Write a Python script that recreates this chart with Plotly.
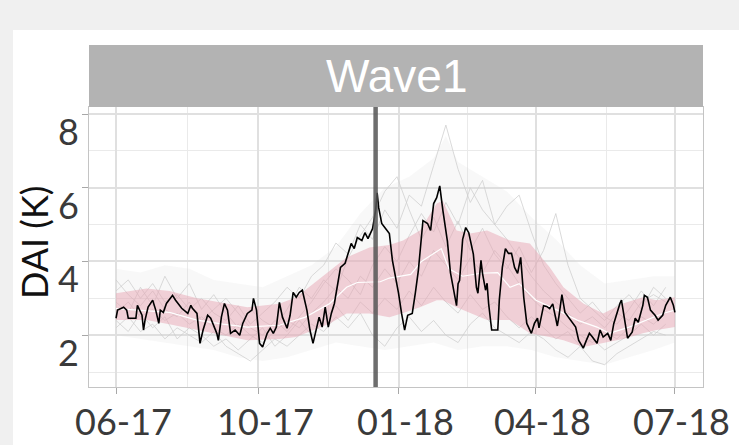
import plotly.graph_objects as go
import pandas as pd

# ---------------- data ----------------
BASE_DATE = "2017-06-30"
tick_dates = ["2017-06-30", "2017-10-01", "2018-01-01", "2018-04-01", "2018-07-01"]
tick_labels = ["06-17", "10-17", "01-18", "04-18", "07-18"]
minor_dates = ["2017-08-16", "2017-11-16", "2018-02-15", "2018-05-17"]
y_ticks = [2, 4, 6, 8]
y_minor = [1, 3, 5, 7]
event_day = 170
panel_title = "Wave1"
y_title = "DAI (K)"

# observed (black) series: day offset, value
black_day = [0, 1, 5, 7, 8, 13, 14, 17, 18, 19, 21, 24, 26, 28, 29, 31, 33, 37, 39, 43,
             47, 49, 50, 53, 54, 55, 57, 60, 62, 64, 66, 67, 69, 71, 73, 75, 78, 81, 83, 86,
             89, 90, 92, 94, 96, 99, 101, 103, 105, 107, 109, 112, 114, 116, 118, 120, 122, 125, 127, 129,
             131, 133, 135, 137, 139, 141, 143, 147, 150, 152, 154, 156, 158, 161, 163, 165, 168, 170, 171, 172,
             174, 176, 179, 181, 183, 185, 187, 189, 191, 194, 196, 198, 201, 204, 206, 208, 210, 212, 214, 217,
             219, 221, 223, 224, 225, 227, 229, 231, 234, 236, 237, 239, 240, 242, 243, 244, 246, 250, 251, 253,
             255, 257, 259, 261, 263, 265, 267, 269, 272, 274, 276, 277, 280, 282, 284, 286, 289, 290, 292, 294,
             296, 299, 301, 303, 306, 308, 310, 312, 315, 317, 319, 322, 324, 326, 328, 330, 331, 333, 335, 338,
             340, 342, 345, 346, 348, 350, 353, 355, 358, 360, 362, 363, 365, 366]
black_val = [2.46, 2.68, 2.76, 2.68, 2.46, 2.46, 2.81, 2.54, 2.14, 2.41, 2.76, 2.95, 2.68, 2.32, 2.68, 2.62, 2.86, 3.08, 2.95, 2.73,
             2.59, 2.81, 2.73, 2.59, 2.19, 1.78, 2.14, 2.54, 2.46, 2.27, 2.05, 1.86, 2.49, 2.86, 2.68, 2.05, 2.14, 2.00, 2.32, 2.59,
             2.68, 3.00, 2.68, 1.78, 1.68, 2.05, 2.19, 2.05, 2.22, 2.89, 2.49, 2.19, 2.54, 3.16, 3.03, 3.16, 3.22, 2.68, 2.14, 1.78,
             2.14, 2.49, 2.22, 2.76, 2.22, 2.59, 2.86, 3.84, 3.95, 4.22, 4.49, 4.35, 4.65, 4.57, 4.78, 4.62, 4.89, 5.38, 5.86, 5.46,
             5.03, 4.92, 4.76, 4.03, 3.62, 3.14, 2.59, 2.14, 2.54, 2.59, 3.14, 3.76, 5.11, 5.03, 4.84, 5.57, 5.73, 6.05, 5.40, 4.55,
             3.70, 3.20, 2.80, 3.40, 3.49, 4.60, 4.92, 4.78, 4.20, 3.30, 3.14, 4.03, 3.68, 3.22, 3.41, 2.86, 2.14, 2.14, 2.95, 3.84,
             4.35, 4.22, 4.22, 3.84, 3.68, 4.11, 3.03, 2.32, 2.05, 2.32, 2.46, 2.20, 2.80, 2.78, 2.72, 2.85, 2.25, 2.50, 3.10, 2.62,
             2.51, 2.35, 2.22, 1.86, 1.65, 1.86, 2.05, 1.95, 1.78, 2.14, 1.95, 2.05, 1.86, 2.32, 2.62, 2.86, 2.95, 2.49, 1.92, 2.08,
             2.46, 2.35, 2.81, 3.08, 3.03, 2.68, 2.54, 2.41, 2.54, 2.81, 2.95, 3.03, 2.81, 2.62]

# pink ribbon (inner quantiles) and white median
band_day = [0, 20, 35, 53, 86, 107, 118, 140, 151, 166, 179, 188, 199, 210, 214, 223, 232, 243, 258, 271,
            284, 293, 306, 319, 332, 345, 354, 366]
band_hi = [3.14, 3.27, 3.20, 3.00, 2.76, 2.85, 3.03, 3.76, 4.11, 4.38, 4.45, 4.57, 4.84, 5.57, 5.65, 4.84, 4.76, 4.84, 4.57, 4.49,
           3.84, 3.30, 2.86, 2.59, 2.86, 3.03, 2.95, 3.03]
band_lo = [2.41, 2.41, 2.30, 2.15, 1.86, 1.90, 1.95, 2.32, 2.59, 2.59, 2.49, 2.60, 2.76, 2.95, 2.95, 2.76, 2.60, 2.41, 2.41, 2.05,
           1.95, 1.86, 1.68, 1.78, 1.90, 2.05, 2.14, 2.22]
median_day = [0, 18, 35, 53, 70, 86, 107, 124, 140, 151, 158, 173, 179, 193, 200, 213, 218, 227, 239, 250,
              258, 264, 275, 289, 302, 315, 323, 336, 347, 358, 366]
median_val = [2.72, 2.66, 2.62, 2.41, 2.30, 2.22, 2.27, 2.49, 2.86, 3.30, 3.43, 3.45, 3.55, 3.65, 4.00, 4.35, 3.80, 3.60, 3.68, 3.70,
              3.30, 3.40, 2.95, 2.68, 2.41, 2.22, 2.05, 2.22, 2.41, 2.59, 2.68]

# grey ensemble members (every 8 days)
ens_day = [0, 8, 16, 24, 32, 40, 48, 56, 64, 72, 80, 88, 96, 104, 112, 120, 128, 136, 144, 152,
           160, 168, 176, 184, 192, 200, 208, 216, 224, 232, 240, 248, 256, 264, 272, 280, 288, 296, 304, 312,
           320, 328, 336, 344, 352, 360]
ens_1 = [3.2, 3.5, 3.0, 3.4, 2.9, 3.1, 2.7, 3.0, 2.6, 2.4, 2.8, 2.3, 2.6, 2.9, 3.3, 3.0, 3.6, 3.9, 4.5, 4.2,
         5.0, 4.6, 5.4, 4.9, 5.8, 5.5, 6.6, 7.7, 6.5, 5.6, 6.2, 5.0, 4.6, 4.1, 3.6, 3.2, 2.9, 2.6, 2.3, 2.5,
         2.2, 2.6, 2.4, 2.9, 3.1, 2.9]
ens_2 = [2.2, 2.5, 2.1, 2.3, 1.9, 2.2, 2.0, 1.8, 2.1, 1.7, 1.5, 1.3, 1.6, 1.9, 1.7, 2.0, 2.3, 2.1, 2.5, 2.2,
         2.6, 2.0, 1.7, 2.2, 2.5, 2.1, 2.4, 2.0, 1.8, 2.3, 2.6, 2.2, 2.0, 1.8, 2.1, 1.9, 1.6, 1.4, 1.7, 1.3,
         1.2, 1.5, 1.7, 1.9, 2.1, 2.0]
ens_3 = [2.9, 2.6, 3.3, 2.8, 3.6, 3.0, 3.4, 2.7, 3.1, 2.6, 2.2, 2.7, 2.4, 2.2, 2.7, 3.3, 3.0, 3.5, 3.2, 4.1,
         4.7, 5.2, 5.9, 6.3, 5.4, 4.6, 5.2, 4.4, 5.1, 4.3, 4.9, 4.2, 3.8, 4.4, 3.7, 4.3, 5.3, 3.9, 3.0, 2.7,
         2.4, 2.8, 3.1, 2.7, 3.3, 3.0]
ens_4 = [2.6, 2.9, 2.5, 2.7, 2.4, 2.6, 2.3, 2.5, 2.2, 2.0, 2.3, 2.0, 1.8, 2.1, 2.4, 2.2, 2.6, 2.9, 3.3, 3.0,
         3.6, 3.3, 3.8, 3.4, 4.0, 3.6, 4.3, 3.9, 3.5, 4.1, 3.7, 4.3, 3.9, 3.4, 3.0, 2.7, 2.5, 2.2, 2.0, 1.8,
         2.1, 1.9, 2.2, 2.5, 2.3, 2.6]
ens_5 = [3.5, 3.1, 2.8, 3.2, 2.7, 2.5, 2.9, 2.4, 2.7, 3.0, 2.6, 2.2, 2.0, 2.4, 2.1, 2.5, 2.9, 3.4, 3.8, 3.5,
         3.1, 3.9, 4.4, 4.0, 4.7, 5.3, 4.8, 5.6, 5.0, 6.0, 5.4, 5.0, 5.5, 5.8, 4.8, 3.9, 3.4, 3.0, 2.6, 2.9,
         2.5, 2.3, 2.7, 3.2, 2.8, 3.3]
ens_6 = [2.4, 2.1, 2.6, 2.2, 2.5, 1.9, 2.2, 2.0, 1.7, 1.9, 1.6, 1.9, 2.2, 1.7, 2.0, 2.4, 2.0, 2.4, 2.8, 2.4,
         2.9, 2.6, 3.0, 2.7, 3.2, 2.8, 3.3, 2.9, 2.6, 3.1, 2.7, 2.9, 2.5, 2.2, 2.5, 2.2, 1.9, 2.1, 1.7, 1.9,
         1.6, 1.8, 2.0, 2.3, 2.0, 2.3]
ensemble = [ens_1, ens_2, ens_3, ens_4, ens_5, ens_6]

# grey ensemble envelope (all members)
env_day = [0, 16, 32, 48, 64, 80, 96, 112, 128, 144, 160, 176, 192, 208, 216, 224, 240, 256, 272, 288,
           304, 320, 336, 352, 366]
env_hi = [3.8, 3.7, 3.9, 3.8, 3.5, 3.4, 3.3, 3.6, 3.9, 4.4, 5.3, 6.0, 6.3, 6.8, 7.4, 6.7, 6.3, 5.9, 5.2, 4.6,
          3.9, 3.4, 3.5, 3.6, 3.6]
env_lo = [2.0, 1.9, 1.8, 1.7, 1.6, 1.4, 1.3, 1.4, 1.6, 1.8, 1.7, 1.6, 1.7, 1.8, 1.7, 1.6, 1.7, 1.7, 1.6, 1.4,
          1.3, 1.2, 1.4, 1.6, 1.8]

# ---------------- helpers ----------------
base = pd.Timestamp(BASE_DATE)


def to_dates(days):
    return [base + pd.Timedelta(days=d) for d in days]


fig = go.Figure()

# envelope haze
fig.add_trace(go.Scatter(x=to_dates(env_day), y=env_lo, mode="lines", line=dict(width=0),
                         hoverinfo="skip"))
fig.add_trace(go.Scatter(x=to_dates(env_day), y=env_hi, mode="lines", line=dict(width=0),
                         fill="tonexty", fillcolor="rgba(215,215,215,0.18)", hoverinfo="skip"))

for member in ensemble:
    fig.add_trace(go.Scatter(x=to_dates(ens_day), y=member, mode="lines",
                             line=dict(color="rgba(205,205,205,0.75)", width=1)))

# pink ribbon
fig.add_trace(go.Scatter(x=to_dates(band_day), y=band_lo, mode="lines", line=dict(width=0),
                         hoverinfo="skip"))
fig.add_trace(go.Scatter(x=to_dates(band_day), y=band_hi, mode="lines", line=dict(width=0),
                         fill="tonexty", fillcolor="rgba(232,165,180,0.50)", hoverinfo="skip"))

# median
fig.add_trace(go.Scatter(x=to_dates(median_day), y=median_val, mode="lines",
                         line=dict(color="white", width=1.2)))

# observed
fig.add_trace(go.Scatter(x=to_dates(black_day), y=black_val, mode="lines",
                         line=dict(color="black", width=1.6)))

# ---------------- layout ----------------
W, H = 739, 445
ml, mr, mt, mb = 89, 36, 107, 58
pw, ph = W - ml - mr, H - mt - mb


def px_to_paper_x(p):
    return (p - ml) / pw


def px_to_paper_y(p):
    return (H - mb - p) / ph


shapes = [
    # white panel background over the light-grey page
    dict(type="rect", xref="paper", yref="paper",
         x0=px_to_paper_x(13), x1=px_to_paper_x(W + 5),
         y0=px_to_paper_y(H + 5), y1=px_to_paper_y(30),
         fillcolor="white", line=dict(width=0), layer="below"),
    # facet strip
    dict(type="rect", xref="paper", yref="paper", x0=0, x1=1,
         y0=1, y1=px_to_paper_y(45), fillcolor="#b3b3b3", line=dict(width=0)),
    # event line
    dict(type="line", xref="x", yref="paper",
         x0=base + pd.Timedelta(days=event_day), x1=base + pd.Timedelta(days=event_day),
         y0=0, y1=1, line=dict(color="rgba(85,85,85,0.85)", width=4.5), layer="above"),
]

LABEL_FONT = dict(family="Lato", size=36, color="#3a3a3a")

annotations = [
    dict(text=panel_title, xref="paper", yref="paper", x=0.5,
         y=(1 + px_to_paper_y(45)) / 2, xanchor="center", yanchor="middle",
         showarrow=False, font=dict(family="Liberation Sans", size=46, color="white")),
    dict(text=y_title, xref="paper", yref="paper", x=px_to_paper_x(34), y=px_to_paper_y(243),
         xanchor="center", yanchor="middle", textangle=-90, showarrow=False,
         font=dict(family="Lato", size=36, color="#111111")),
]
# tick labels as text (offset as in the original rendering)
for v in y_ticks:
    annotations.append(dict(text=str(v), xref="paper", yref="y", x=px_to_paper_x(81), y=v,
                            xanchor="right", yanchor="middle", yshift=-17, showarrow=False,
                            font=LABEL_FONT))
for d, lab in zip(tick_dates, tick_labels):
    annotations.append(dict(text=lab, xref="x", yref="paper", x=d, y=px_to_paper_y(444),
                            xanchor="center", yanchor="bottom", xshift=7, showarrow=False,
                            borderpad=0, font=LABEL_FONT))

axis_common = dict(
    showgrid=True, gridcolor="#e0e0e0", gridwidth=1.5,
    showline=True, mirror=True, linecolor="#c4c4c4", linewidth=1,
    ticks="outside", ticklen=6, tickcolor="#a8a8a8", tickwidth=1,
    zeroline=False, showticklabels=False,
)

fig.update_layout(
    width=W, height=H,
    margin=dict(l=ml, r=mr, t=mt, b=mb),
    paper_bgcolor="#f0f0f0", plot_bgcolor="white",
    showlegend=False,
    shapes=shapes, annotations=annotations,
    xaxis=dict(type="date",
               range=[base - pd.Timedelta(days=17.7), base + pd.Timedelta(days=384.4)],
               tickmode="array", tickvals=tick_dates,
               minor=dict(tickmode="array", tickvals=minor_dates, showgrid=True,
                          gridcolor="#eaeaea", gridwidth=1.2, ticks=""),
               **axis_common),
    yaxis=dict(range=[0.595, 8.19], tickmode="array", tickvals=y_ticks,
               minor=dict(tickmode="array", tickvals=y_minor, showgrid=True,
                          gridcolor="#eaeaea", gridwidth=1.2, ticks=""),
               **axis_common),
)

fig.write_html("out.html", config={"displayModeBar": False},
               post_script="document.body.style.margin='0';")
